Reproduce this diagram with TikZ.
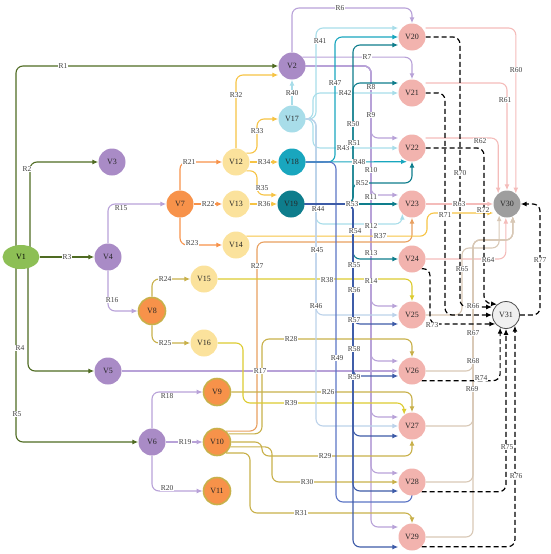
\documentclass[tikz,border=0pt]{standalone}
\usepackage{fontspec}
\setmainfont{Liberation Serif}
\usetikzlibrary{arrows.meta,backgrounds,shapes.geometric}
\definecolor{cG}{HTML}{4F6B22}
\definecolor{cV1}{HTML}{8DBF55}
\definecolor{cP}{HTML}{A98BC6}
\definecolor{cPe}{HTML}{B8A2D8}
\definecolor{cO}{HTML}{F7924A}
\definecolor{cOl}{HTML}{C8B04A}
\definecolor{cY}{HTML}{F6C344}
\definecolor{cYn}{HTML}{FBE29C}
\definecolor{cYg}{HTML}{DCCB30}
\definecolor{cLB}{HTML}{A8DDE9}
\definecolor{cLBp}{HTML}{BCD2EA}
\definecolor{cT}{HTML}{19A6BE}
\definecolor{cDT}{HTML}{0E7D8C}
\definecolor{cDB}{HTML}{3D5BA8}
\definecolor{cB}{HTML}{5B74C4}
\definecolor{cPK}{HTML}{F2B3AE}
\definecolor{cPKe}{HTML}{F4BCBA}
\definecolor{cBe}{HTML}{D8C8B6}
\definecolor{cGr}{HTML}{9E9E9E}
\definecolor{cR27}{HTML}{E8A060}
\tikzset{
  vn/.style={circle, minimum size=27pt, inner sep=0pt, font=\fontsize{8}{9}\selectfont, text=black!85},
  on/.style={vn, fill=cO, draw=cOl, line width=1.6pt},
  e/.style={line width=1.1pt, rounded corners=7pt, -{Latex[length=6pt,width=5pt]}},
  dsh/.style={e, black, line width=1.2pt, dash pattern=on 5pt off 3pt},
  lab/.style={fill=white, inner sep=0.4pt, font=\fontsize{7.5}{8}\selectfont, text=black!75}
}
\begin{document}
\begin{tikzpicture}[x=1pt,y=-1pt]
\useasboundingbox (0,0) rectangle (550,554);
% nodes
\node[ellipse, minimum width=37pt, minimum height=24pt, inner sep=0pt, fill=cV1, font=\fontsize{8}{9}\selectfont] (V1) at (21,257) {V1};
\node[vn,fill=cP] (V2) at (292,66) {V2};
\node[vn,fill=cP] (V3) at (112,162) {V3};
\node[vn,fill=cP] (V4) at (108,257) {V4};
\node[vn,fill=cP] (V5) at (108,371) {V5};
\node[vn,fill=cP] (V6) at (152,442) {V6};
\node[vn,fill=cO] (V7) at (180,204) {V7};
\node[on] (V8) at (152,311) {V8};
\node[on] (V9) at (217,392) {V9};
\node[on] (V10) at (217,442) {V10};
\node[on] (V11) at (217,491) {V11};
\node[vn,fill=cYn] (V12) at (236,162) {V12};
\node[vn,fill=cYn] (V13) at (236,204) {V13};
\node[vn,fill=cYn] (V14) at (236,245) {V14};
\node[vn,fill=cYn] (V15) at (204,279) {V15};
\node[vn,fill=cYn] (V16) at (204,343) {V16};
\node[vn,fill=cLB] (V17) at (292,119) {V17};
\node[vn,fill=cT] (V18) at (292,162) {V18};
\node[vn,fill=cDT] (V19) at (291,204) {V19};
\node[vn,fill=cPK] (V20) at (412,37) {V20};
\node[vn,fill=cPK] (V21) at (412,93) {V21};
\node[vn,fill=cPK] (V22) at (412,148) {V22};
\node[vn,fill=cPK] (V23) at (412,204) {V23};
\node[vn,fill=cPK] (V24) at (412,259) {V24};
\node[vn,fill=cPK] (V25) at (412,315) {V25};
\node[vn,fill=cPK] (V26) at (412,371) {V26};
\node[vn,fill=cPK] (V27) at (412,426) {V27};
\node[vn,fill=cPK] (V28) at (412,482) {V28};
\node[vn,fill=cPK] (V29) at (412,537) {V29};
\node[vn,fill=cGr] (V30) at (507,204) {V30};
\node[vn,fill=black!6,draw=black!70,line width=0.8pt] (V31) at (506,315) {V31};

\begin{pgfonlayer}{background}
% green
\draw[e,cG] ([xshift=-5pt,yshift=-3pt]V1.north) |- (V2);
\draw[e,cG] ([xshift=9pt,yshift=-3pt]V1.north) |- (V3);
\draw[e,cG] (V1) -- (V4);
\draw[e,cG] ([xshift=7pt,yshift=3pt]V1.south) |- (V5);
\draw[e,cG] ([xshift=-5pt,yshift=3pt]V1.south) |- (V6);
% purple
\draw[e,cPe] (V2.north) -- (V2.north |- 0,8) -| (V20.north);
\draw[e,cPe] (V2.40) -| (V21.north);
\draw[e,cPe] (V2.east) -| (371,138) -- ([yshift=10pt]V22.west);
\draw[e,cPe] (V2.east) -| (371,195) -- ([yshift=9pt]V23.west);
\draw[e,cPe] (V2.east) -| (371,306) -- ([yshift=9pt]V25.west);
\draw[e,cPe] (V2.east) -| (371,361) -- ([yshift=10pt]V26.west);
\draw[e,cPe] (V2.east) -| (371,417) -- ([yshift=9pt]V27.west);
\draw[e,cPe] (V2.east) -| (371,473) -- ([yshift=9pt]V28.west);
\draw[e,cPe] (V2.east) -| (371,527) -- ([yshift=10pt]V29.west);
\draw[e,cPe] (V4.north) |- (V7);
\draw[e,cPe] (V4.south) |- (V8);
\draw[e,cPe] (V5) -- (V26);
\draw[e,cPe] (V6.north) |- (V9);
\draw[e,cPe] (V6) -- (V10);
\draw[e,cPe] (V6.south) |- (V11);
% orange
\draw[e,cO] (V7.north) |- (V12);
\draw[e,cO] (V7) -- (V13);
\draw[e,cO] (V7.south) |- (V14);
% olive
\draw[e,cOl] (V8.north) |- (V15);
\draw[e,cOl] (V8.south) |- (V16);
\draw[e,cR27] (V10.50) -| (257,242) -| (V23.south);
\draw[e,cOl] (V10.35) -| (262,339) -| (V26.north);
\draw[e,cOl] (V10.east) -| (262,456) -| (V27.south);
\draw[e,cOl] (V10.-20) -| (272,482) -- (V28);
\draw[e,cOl] (V10.-50) -| (250,513) -| (V29.north);
\draw[e,cOl] (V9) -| (V27.north);
\draw[e,cYg] (V16) -| (243,403) -| (V27.125);
\draw[e,cYg] (V15) -| (V25.north);
% yellow
\draw[e,cY] (V12.north) |- ([yshift=-9pt]V2.west);
\draw[e,cY] (V12.40) -| (257,119) -- (V17);
\draw[e,cY] (V12) -- (V18);
\draw[e,cY] (V12.-40) -| (257,195) -- ([yshift=9pt]V19.west);
\draw[e,cY] (V13) -- (V19);
\draw[e,cY] (V14.40) -| (427,213) -- ([yshift=-9pt]V30.west);
% light blue
\draw[e,cLB] (V17) -- (V2);
\draw[e,cLB] (V17.east) -| (316,60) |- ([yshift=9pt]V20.west);
\draw[e,cLB] (V17.east) -| (313,93) -- (V21);
\draw[e,cLB] (V17.east) -| (313,148) -- (V22);
\draw[e,cLB] (V17.east) -| (316,224) -| (V23.-135);
\draw[e,cLBp] (V17.east) -| (316,426) -- (V27);
\draw[e,cLBp] (V17.east) -| (316,315) -- (V25);
% teal from V18
\draw[e,cT] (V18.east) -| (335,37) -- (V20);
\draw[e,cT] (V18.east) -- ([xshift=-5pt]V22.south);
\draw[e,cB] (V18.east) -| (336,502) -| (V28.south);
% from V19
\draw[e,cDT] (V19.east) -| (353,45) -- ([yshift=-8pt]V20.west);
\draw[e,cDT] (V19.east) -| (353,83) -- ([yshift=10pt]V21.west);
\draw[e,cDT] (V19.east) -| (353,183) -| (V22.south);
\draw[e,cDT] (V19) -- (V23);
\draw[e,cDT] (V19.east) -| (353,259) -- (V24);
\draw[e,cDB] (V19.east) -| (353,324) -- ([yshift=-9pt]V25.west);
\draw[e,cDB] (V19.east) -| (353,376) -- ([yshift=-5pt]V26.west);
\draw[e,cDB] (V19.east) -| (353,436) -- ([yshift=-10pt]V27.west);
\draw[e,cDB] (V19.east) -| (353,491) -- ([yshift=-9pt]V28.west);
\draw[e,cDB] (V19.east) -| (353,547) -- ([yshift=-10pt]V29.west);
% pink to V30
\draw[e,cPKe] ([yshift=9pt]V20.east) -| (V30.50);
\draw[e,cPKe] ([yshift=10pt]V21.east) -| (V30.north);
\draw[e,cPKe] ([yshift=10pt]V22.east) -| (V30.130);
\draw[e,cPKe] (V23) -- (V30);
\draw[e,cPKe] (V24.east) -| (V30.-95);
\draw[e,cBe] (V25.east) -| (462,248) -| (V30.-125);
\draw[e,cBe] (V26.east) -| (473,240) -| (V30.-65);
\draw[e,cBe] (V27.east) -| (473,240) -| (V30.-65);
\draw[e,cBe] (V28.east) -| (473,240) -| (V30.-65);
\draw[e,cBe] (V29.east) -| (473,240) -| (V30.-65);
% dashed to V31
\draw[dsh] (V20.east) -| (460,307) -- ([yshift=8pt]V31.west);
\draw[dsh] (V21.east) -| (445,315) -- (V31.west);
\draw[dsh] (V22.east) -| (484,303) -- (V31.130);
\draw[dsh] (V24.-45) -| (430,324) -- (V31.-140);
\draw[dsh] (V26.-45) -| (V31.-115);
\draw[dsh] (V28.-45) -| (V31.south);
\draw[dsh] (V29.-45) -| (V31.-50);
\draw[dsh] (V31.east) -| (540,260) |- (V30.east);
\end{pgfonlayer}

% labels
\foreach \t/\x/\y in {R1/63/66, R2/27/169, R3/67/257, R4/20/348, R5/17/414, R6/340/8, R7/367/57, R8/371/87, R9/371/115, R10/371/170, R11/371/197, R12/371/226, R13/371/253, R14/371/281, R15/121/208, R16/112/300, R17/260/371, R18/167/396, R19/185/442, R20/167/488, R21/189/162, R22/208/204, R23/192/243, R24/165/279, R25/165/343, R26/328/392, R27/257/266, R28/291/339, R29/325/456, R30/307/482, R31/301/513, R32/236/95, R33/257/131, R34/264/162, R35/262/188, R36/264/204, R37/380/236, R38/327/280, R39/291/403, R40/292/93, R41/320/41, R42/345/93, R43/343/148, R44/318/209, R45/317/250, R46/316/306, R47/335/83, R48/359/162, R49/337/358, R50/353/124, R51/354/143, R52/362/183, R53/352/204, R54/355/231, R55/354/265, R56/354/290, R57/354/320, R58/354/349, R59/354/377, R60/516/70, R61/505/100, R62/480/141, R63/459/204, R64/488/260, R65/462/269, R66/473/306, R67/473/333, R68/473/361, R69/472/389, R70/460/173, R71/445/215, R72/483/210, R73/432/325, R74/481/378, R75/507/447, R76/516/476, R77/540/260}
  \node[lab] (L\t) at (\x,\y) {\t};
\end{tikzpicture}
\end{document}
